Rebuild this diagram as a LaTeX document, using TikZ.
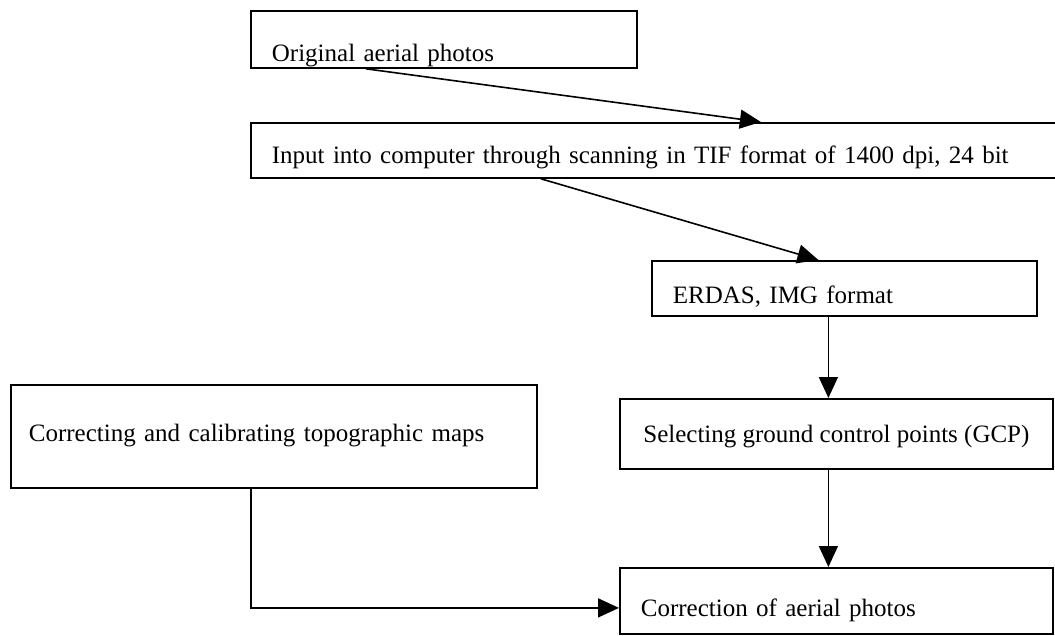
\documentclass[tikz,border=0pt]{standalone}
\usepackage{fontspec}
\setmainfont{Liberation Serif}
\usetikzlibrary{arrows.meta}
\tikzset{
    etapa/.style={draw, line width=1.8pt, anchor=north west, inner xsep=21pt, inner ysep=2pt,
        align=left, font=\fontsize{25}{30}\selectfont},
    flecha/.style={line width=1.6pt, -{Triangle[length=21pt, width=19pt]}}
}
\begin{document}
\begin{tikzpicture}[x=1pt, y=-1pt]
    \useasboundingbox (0,0) rectangle (1055,635);
    %------------Cajas----------
    \node[etapa, text width=344pt, minimum height=57pt, text height=45pt, text depth=0pt] (fotos) at (250,10) {Original aerial photos};
    \node[etapa, text width=768pt, minimum height=55pt, text height=27pt, text depth=0pt] (escaneo) at (250,122) {Input into computer through scanning in TIF format of 1400 dpi, 24 bit};
    \node[etapa, text width=343pt, minimum height=55pt, text height=31pt, text depth=0pt] (erdas) at (651,260) {ERDAS, IMG format};
    \node[etapa, inner xsep=4pt, minimum width=433pt, minimum height=70pt, text height=20pt, text depth=2pt, align=center] (gcp) at (619,398) {Selecting ground control points (GCP)};
    \node[etapa, inner xsep=18pt, text width=490pt, minimum height=103pt, text height=17pt, text depth=6pt] (mapas) at (10,384) {Correcting and calibrating topographic maps};
    \node[etapa, text width=391pt, minimum height=66pt, text height=32pt, text depth=0pt] (correccion) at (619,567) {Correction of aerial photos};
    %------------Flechas----------
    \coordinate (gcpin) at ([xshift=-8pt]gcp.north);
    \coordinate (corrin) at ([xshift=-8pt]correccion.north);
    \draw[flecha] ([xshift=-78pt]fotos.south) -- ([xshift=105pt]escaneo.north);
    \draw[flecha] ([xshift=-115pt]escaneo.south) -- ([xshift=-26pt]erdas.north);
    \draw[flecha] (erdas.south -| gcpin) -- (gcpin);
    \draw[flecha] (gcp.south -| corrin) -- (corrin);
    \draw[flecha] ([xshift=-23pt]mapas.south) |- ([yshift=-7pt]correccion.west);
\end{tikzpicture}
\end{document}
